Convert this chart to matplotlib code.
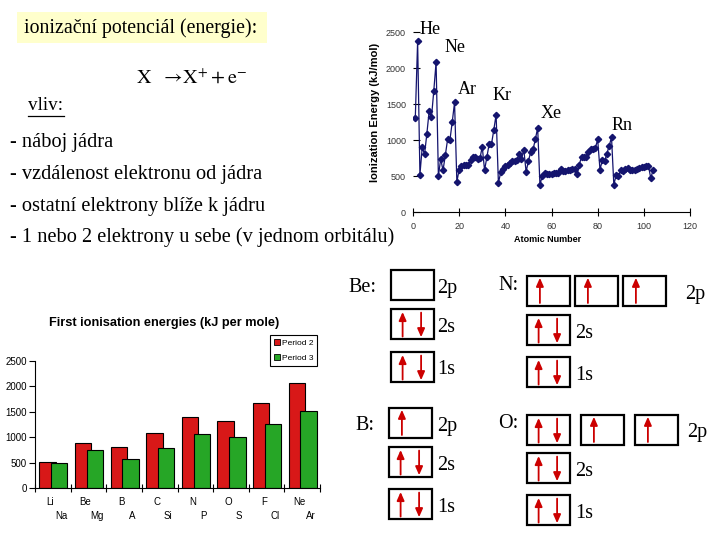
import numpy as np
import matplotlib
matplotlib.use("Agg")
import matplotlib.pyplot as plt
from matplotlib.patches import Rectangle, Patch

plt.rcParams["mathtext.fontset"] = "stix"

SERIF = "Liberation Serif"
SANS = "Liberation Sans"
NAVY = "#14146e"
RED_BAR = "#d81818"
GREEN_BAR = "#26a626"
ARROW_RED = "#cc0000"
NOTE_BG = "#ffffcc"

W, H = 720, 540

# first ionisation energy, Z = 1..104 (kJ/mol)
atomic_number = np.arange(1, 105)
ionization_energy = [
    1312, 2372, 520, 900, 801, 1086, 1402, 1314, 1681, 2081,
    496, 738, 578, 787, 1012, 1000, 1251, 1521, 419, 590,
    633, 659, 651, 653, 717, 762, 760, 737, 746, 906,
    579, 762, 947, 941, 1140, 1351, 403, 550, 600, 640,
    652, 684, 702, 710, 720, 804, 731, 868, 558, 709,
    834, 869, 1008, 1170, 376, 503, 538, 534, 527, 533,
    540, 545, 547, 593, 566, 573, 581, 589, 597, 603,
    524, 659, 761, 770, 760, 840, 880, 870, 890, 1007,
    589, 716, 703, 812, 920, 1037, 380, 509, 499, 587,
    568, 598, 605, 585, 578, 581, 601, 608, 619, 627,
    635, 642, 470, 580,
]
noble_gases = ["He", "Ne", "Ar", "Kr", "Xe", "Rn"]

period2_elements = ["Li", "Be", "B", "C", "N", "O", "F", "Ne"]
period3_elements = ["Na", "Mg", "A", "Si", "P", "S", "Cl", "Ar"]
period2_energy = [510, 885, 805, 1080, 1395, 1315, 1670, 2065]
period3_energy = [490, 745, 570, 785, 1060, 1000, 1255, 1510]

# electrons per orbital box
config_elements = ["Be", "B", "N", "O"]
config_2p = [[0], [1], [1, 1, 1], [2, 1, 1]]
config_2s = [2, 2, 2, 2]
config_1s = [2, 2, 2, 2]

influences = [
    "- náboj jádra",
    "- vzdálenost elektronu od jádra",
    "- ostatní elektrony blíže k jádru",
    "- 1 nebo 2 elektrony u sebe (v jednom orbitálu)",
]


def fig_rect(left, top, right, bottom):
    return [left / W, 1 - bottom / H, (right - left) / W, (bottom - top) / H]


fig = plt.figure(figsize=(7.2, 5.4), dpi=100)
fig.patch.set_facecolor("white")

# ---- periodic trend (top right)
ax1 = fig.add_axes(fig_rect(413, 32, 690, 212))
ax1.plot(atomic_number, ionization_energy, color=NAVY, lw=0.9,
         marker="D", ms=3.2, mfc=NAVY, mec=NAVY)
ax1.set_xlim(0, 120)
ax1.set_ylim(0, 2500)
ax1.set_xticks(range(0, 121, 20))
ax1.set_yticks(range(0, 2501, 500))
for s in ["left", "top", "right"]:
    ax1.spines[s].set_visible(False)
ax1.spines["bottom"].set_linewidth(0.8)
ax1.tick_params(axis="y", direction="in", length=5, width=0.8, pad=5,
                labelsize=6.5, labelcolor="#333333")
ax1.tick_params(axis="x", direction="inout", length=6, width=0.8, pad=4,
                labelsize=6.5, labelcolor="#333333")
for lab in ax1.get_xticklabels() + ax1.get_yticklabels():
    lab.set_family(SANS)

# ---- bar chart (bottom left)
ax2 = fig.add_axes(fig_rect(35, 361, 320, 488))
idx = np.arange(len(period2_elements))
ax2.bar(idx + 0.35, period2_energy, 0.46, color=RED_BAR, ec="black", lw=0.8)
ax2.bar(idx + 0.68, period3_energy, 0.46, color=GREEN_BAR, ec="black", lw=0.8)
ax2.set_xlim(0, len(period2_elements))
ax2.set_ylim(0, 2500)
ax2.set_xticks(range(len(period2_elements) + 1))
ax2.set_xticklabels([])
ax2.set_yticks(range(0, 2501, 500))
for s in ["top", "right"]:
    ax2.spines[s].set_visible(False)
for s in ["left", "bottom"]:
    ax2.spines[s].set_linewidth(0.8)
ax2.tick_params(axis="y", direction="out", length=4, width=0.8, pad=2, labelsize=7)
ax2.tick_params(axis="x", direction="inout", length=6, width=0.8)
for lab in ax2.get_yticklabels():
    lab.set_family(SANS)
tr = ax2.get_xaxis_transform()
for i, (a, b) in enumerate(zip(period2_elements, period3_elements)):
    ax2.text(i + 0.42, -0.11, a, transform=tr, ha="center", va="center",
             fontsize=7, family=SANS)
    ax2.text(i + 0.73, -0.22, b, transform=tr, ha="center", va="center",
             fontsize=7, family=SANS)
leg = ax2.legend(handles=[Patch(fc=RED_BAR, ec="black", lw=0.6),
                          Patch(fc=GREEN_BAR, ec="black", lw=0.6)],
                 labels=["Period 2", "Period 3"], loc="upper left",
                 bbox_to_anchor=(270 / W, 1 - 335 / H), bbox_transform=fig.transFigure,
                 prop={"family": SANS, "size": 6}, fancybox=False, edgecolor="black",
                 framealpha=1, handlelength=0.7, handleheight=0.7, handletextpad=0.3,
                 borderpad=0.45, labelspacing=0.9, borderaxespad=0)
leg.get_frame().set_linewidth(0.8)

# ---- overlay in pixel coordinates
ov = fig.add_axes([0, 0, 1, 1], zorder=5)
ov.set_xlim(0, W)
ov.set_ylim(H, 0)
ov.axis("off")
ov.patch.set_alpha(0)

ov.add_patch(Rectangle((17, 12), 250, 31, fc=NOTE_BG, ec="none"))
ov.text(24, 28, "ionizační potenciál (energie):", family=SERIF, fontsize=14.3,
        ha="left", va="center")
ov.text(192, 78, r"$\mathrm{X}\ \ \rightarrow\!\mathrm{X}^{+} + \mathrm{e}^{-}$",
        fontsize=14.5, ha="center", va="center")
ov.text(28, 106, "vliv:", family=SERIF, fontsize=13.8, ha="left", va="center")
ov.plot([28, 64], [116, 116], color="black", lw=0.9)
for k, line in enumerate(influences):
    ov.text(10, 143 + k * 31.5, line, family=SERIF, fontsize=14.7,
            ha="left", va="center")

ov.text(548, 240, "Atomic Number", family=SANS, fontsize=6.5, weight="bold",
        ha="center", va="center")
ov.text(375, 112, "Ionization Energy (kJ/mol)", family=SANS, fontsize=8,
        weight="bold", rotation=90, ha="center", va="center")
gas_xy = [(430, 29), (455, 47), (467, 89), (502, 96), (551, 113), (622, 125)]
for name, (x, y) in zip(noble_gases, gas_xy):
    ov.text(x, y, name, family=SERIF, fontsize=13, ha="center", va="center")

ov.text(164, 323, "First ionisation energies (kJ per mole)", family=SANS,
        fontsize=9.2, weight="bold", ha="center", va="center")


def arrow(x, y_tail, y_head):
    ov.annotate("", xy=(x, y_head), xytext=(x, y_tail),
                arrowprops=dict(arrowstyle="-|>,head_width=0.22,head_length=0.5",
                                color=ARROW_RED, lw=1.3, shrinkA=0, shrinkB=0))


def orbital_box(x, y, n, w=43, h=30):
    ov.add_patch(Rectangle((x, y), w, h, fill=False, ec="black", lw=1.6))
    if n == 1:
        arrow(x + 0.3 * w, y + 0.9 * h, y + 0.06 * h)
    elif n == 2:
        arrow(x + 0.27 * w, y + 0.92 * h, y + 0.1 * h)
        arrow(x + 0.7 * w, y + 0.12 * h, y + 0.94 * h)


# label pos, s-box x, p-box xs, row tops (2p, 2s, 1s), p label pos, s label x
panels = [
    ((348, 288), 391, [391], [270, 309, 352], (437, 288), 437),
    ((355, 425), 389, [389], [408, 447, 489], (437, 427), 437),
    ((498, 286), 527, [527, 575, 623], [276, 315, 357], (685, 295), 575),
    ((498, 423), 527, [527, 581, 635], [415, 453, 495], (687, 433), 575),
]
for el, p_occ, s2, s1, panel in zip(config_elements, config_2p, config_2s,
                                    config_1s, panels):
    (lx, ly), sx, pxs, rows, (plx, ply), slx = panel
    ov.text(lx, ly, el + ":", family=SERIF, fontsize=14.5, ha="left", va="center")
    for px, n in zip(pxs, p_occ):
        orbital_box(px, rows[0], n)
    orbital_box(sx, rows[1], s2)
    orbital_box(sx, rows[2], s1)
    ov.text(plx, ply, "2p", family=SERIF, fontsize=14.5, ha="left", va="center")
    ov.text(slx, rows[1] + 18, "2s", family=SERIF, fontsize=14.5, ha="left", va="center")
    ov.text(slx, rows[2] + 18, "1s", family=SERIF, fontsize=14.5, ha="left", va="center")

fig.savefig("out.png", dpi=100, facecolor="white")
